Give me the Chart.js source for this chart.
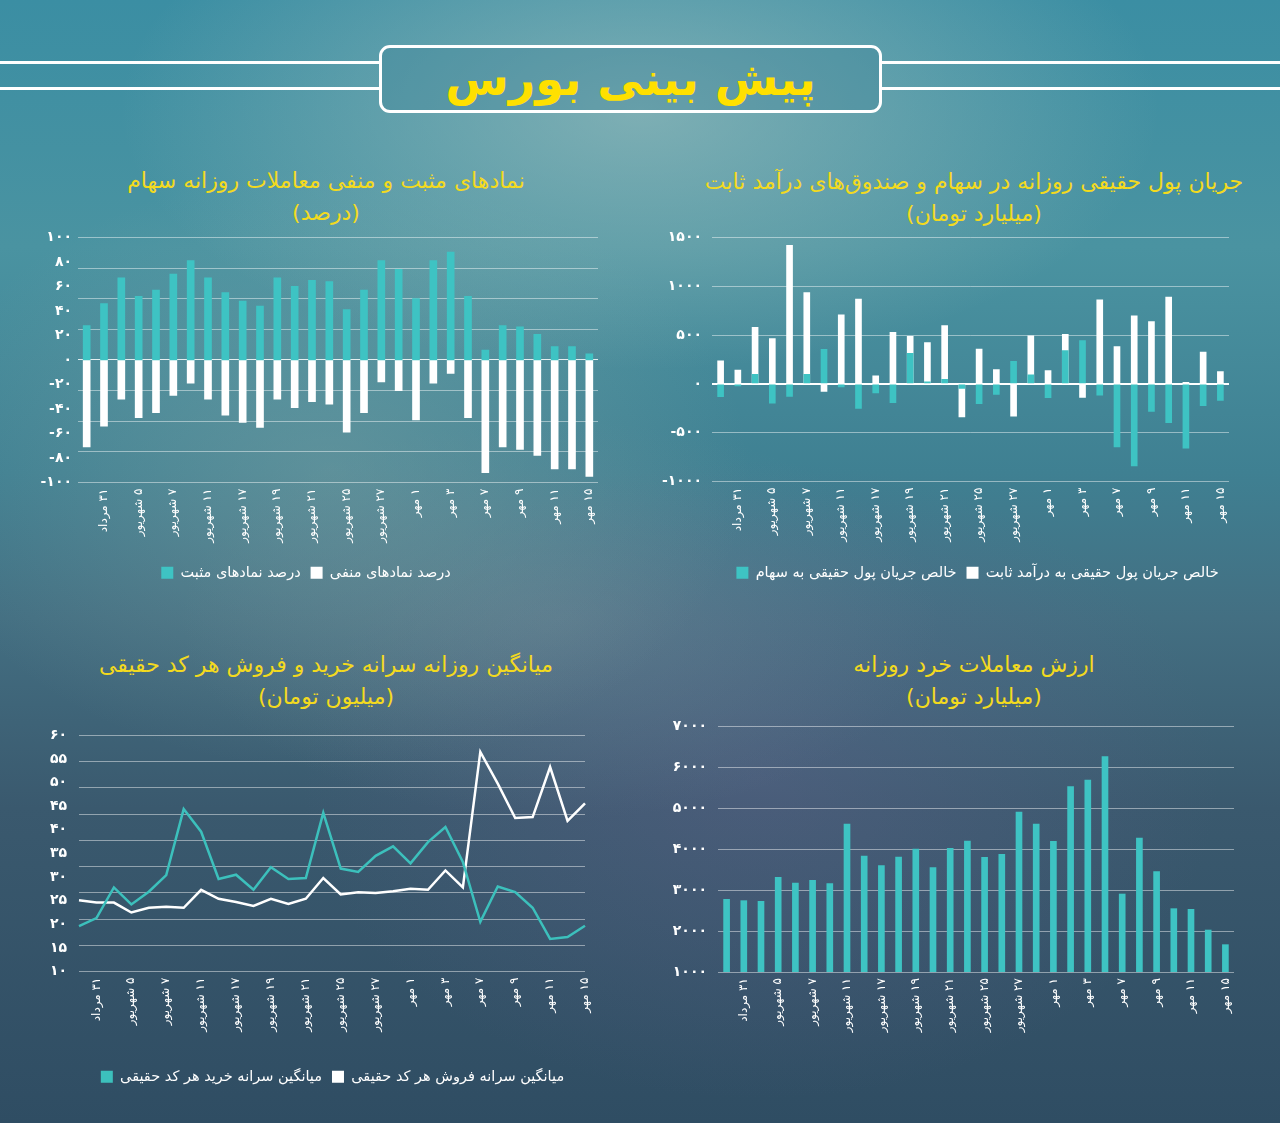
<!DOCTYPE html>
<html lang="fa">
<head>
<meta charset="utf-8">
<script src="https://cdn.jsdelivr.net/npm/chart.js@4.4.1/dist/chart.umd.min.js"></script>
<style>
html,body{margin:0;padding:0;}
body{
  width:1280px;height:1123px;position:relative;overflow:hidden;
  font-family:"DejaVu Sans",sans-serif;
  background:
    radial-gradient(ellipse 520px 260px at 640px 110px, rgba(175,200,195,0.55), rgba(175,200,195,0) 100%),
    radial-gradient(ellipse 420px 300px at 330px 470px, rgba(150,175,170,0.35), rgba(150,175,170,0) 100%),
    radial-gradient(ellipse 380px 200px at 560px 620px, rgba(130,150,160,0.30), rgba(130,150,160,0) 100%),
    radial-gradient(ellipse 460px 320px at 760px 780px, rgba(105,100,145,0.35), rgba(105,100,145,0) 100%),
    linear-gradient(180deg, #3b8ea3 0%, #4a93a1 22%, #3f8092 42%, #436f82 55%, #3a596e 72%, #2f4d63 100%);
}
.hline{position:absolute;height:3px;background:#ffffff;}
.hdr{position:absolute;left:379px;top:45px;width:497px;height:62px;border:3px solid #ffffff;border-radius:11px;
  background:rgba(60,130,150,0.35);display:flex;align-items:center;justify-content:center;}
.hdr span{direction:rtl;color:#ffe000;font-weight:bold;font-size:46px;line-height:62px;}
.ttl{position:absolute;direction:rtl;text-align:center;color:#f3da1e;font-size:22px;line-height:32px;width:640px;}
canvas{position:absolute;}
</style>
</head>
<body>
<div class="hline" style="left:0;top:61px;width:380px"></div>
<div class="hline" style="left:0;top:87px;width:380px"></div>
<div class="hline" style="left:881px;top:61px;width:399px"></div>
<div class="hline" style="left:881px;top:87px;width:399px"></div>
<div class="hdr"><span>پیش بینی بورس</span></div>

<div class="ttl" style="left:6px;top:165px">نمادهای مثبت و منفی معاملات روزانه سهام<br>(درصد)</div>
<div class="ttl" style="left:654px;top:166px">جریان پول حقیقی روزانه در سهام و صندوق‌های درآمد ثابت<br>(میلیارد تومان)</div>
<div class="ttl" style="left:6px;top:649px">میانگین روزانه سرانه خرید و فروش هر کد حقیقی<br>(میلیون تومان)</div>
<div class="ttl" style="left:654px;top:649px">ارزش معاملات خرد روزانه<br>(میلیارد تومان)</div>

<canvas id="c1" width="590" height="377" style="left:20px;top:223px"></canvas>
<canvas id="c2" width="620" height="381" style="left:650px;top:219px"></canvas>
<canvas id="c3" width="590" height="385" style="left:20px;top:715px"></canvas>
<canvas id="c4" width="620" height="380" style="left:650px;top:700px"></canvas>

<script>
// ---------- DATA ----------
const categories = ['۳۰ مرداد','۳۱ مرداد','۱ شهریور','۵ شهریور','۶ شهریور','۷ شهریور','۸ شهریور','۱۱ شهریور','۱۲ شهریور','۱۷ شهریور',
  '۱۸ شهریور','۱۹ شهریور','۲۰ شهریور','۲۱ شهریور','۲۲ شهریور','۲۵ شهریور','۲۶ شهریور','۲۷ شهریور','۲۸ شهریور','۱ مهر',
  '۲ مهر','۳ مهر','۴ مهر','۷ مهر','۸ مهر','۹ مهر','۱۰ مهر','۱۱ مهر','۱۲ مهر','۱۵ مهر'];

// chart 1: positive / negative symbols (%)
const positiveSymbols = [28,46,67,52,57,70,81,67,55,48,44,67,60,65,64,41,57,81,74,50,81,88,52,8,28,27,21,11,11,5];
const negativeSymbols = [-71,-54,-32,-47,-43,-29,-19,-32,-45,-51,-55,-32,-39,-34,-36,-59,-43,-18,-25,-49,-19,-11,-47,-92,-71,-73,-78,-89,-89,-95];

// chart 2: real money flow (billion toman)
const flowStocks      = [-132,-20,98,-197,-129,98,353,-31,-251,-92,-193,312,20,47,-47,-203,-108,230,92,-142,342,444,-115,-647,-841,-281,-397,-658,-224,-169];
const flowFixedIncome = [237,142,580,464,1420,936,-78,708,868,81,529,488,424,597,-339,356,146,-332,492,136,508,-139,861,383,698,637,888,15,325,125];

// chart 3: per-capita buy / sell (million toman)
const perCapitaBuy  = [19.6,21.3,27.8,24.2,26.9,30.4,44.4,39.6,29.6,30.5,27.3,32.1,29.6,29.8,43.6,31.8,31.1,34.5,36.5,32.9,37.4,40.6,33.2,20.5,28.0,26.8,23.5,16.9,17.3,19.7];
const perCapitaSell = [25.1,24.6,24.6,22.5,23.5,23.7,23.5,27.3,25.4,24.7,23.9,25.4,24.3,25.4,29.8,26.3,26.8,26.6,27.0,27.5,27.3,31.4,27.8,56.5,49.8,42.5,42.7,53.3,41.9,45.6];

// chart 4: retail trade value (billion toman)
const retailValue = [2772,2740,2724,3309,3171,3236,3154,4610,3829,3593,3805,4000,3545,4016,4195,3797,3870,4902,4610,4187,5520,5683,6252,2902,4268,3447,2545,2528,2024,1667];

// ---------- STYLE / HELPERS ----------
const TEAL = '#3ec3c3';
const WHITE = '#ffffff';
const GRID = 'rgba(255,255,255,0.45)';
const FONT = '"DejaVu Sans", sans-serif';
const fa = s => String(s).replace(/\d/g, d => '۰۱۲۳۴۵۶۷۸۹'[d]);
const faNum = v => (v < 0 ? '-' : '') + fa(Math.abs(Math.round(v)));

Chart.defaults.font.family = FONT;
Chart.defaults.color = '#ffffff';

function xAxis(height) {
  return {
    stacked: true,
    grid: {display: false, drawTicks: false},
    border: {display: false},
    afterFit: s => { s.height = height; },
    ticks: {
      autoSkip: false, minRotation: 90, maxRotation: 90, padding: 6,
      color: '#ffffff', font: {size: 12, family: FONT},
      callback: function(v, i) { return i % 2 === 1 ? '\u200F' + this.getLabelForValue(v) : ''; }
    }
  };
}
function yLabels(width, min, max, step, pad) {
  return {
    position: 'left', min, max,
    afterFit: s => { s.width = width; },
    border: {display: false},
    grid: {display: false, drawTicks: false},
    ticks: {stepSize: step, padding: pad, color: '#ffffff', font: {size: 14, weight: 'bold', family: FONT}, callback: v => faNum(v)}
  };
}
function yGrid(min, max, opts) {
  return Object.assign({
    position: 'right', min, max,
    afterFit: s => { s.width = 0; },
    border: {display: false},
    grid: {color: GRID, drawTicks: false},
    ticks: {display: false}
  }, opts);
}
const legendOpts = {
  position: 'bottom',
  labels: {color: '#ffffff', boxWidth: 12, boxHeight: 12, padding: 10, font: {size: 14.5, family: FONT}}
};
const shiftLegend = dx => ({id: 'shiftLegend', afterLayout(c) { if (c.legend) { c.legend.left += dx; c.legend.right += dx; } }});
const base = {responsive: false, animation: false, devicePixelRatio: 1};

// ---------- CHART 1 ----------
new Chart(document.getElementById('c1'), {
  type: 'bar',
  data: {
    labels: categories,
    datasets: [
      {label: 'درصد نمادهای مثبت', data: positiveSymbols, backgroundColor: TEAL, barThickness: 7, order: 0},
      {label: 'درصد نمادهای منفی', data: negativeSymbols, backgroundColor: WHITE, barThickness: 7, order: 1}
    ]
  },
  options: Object.assign({}, base, {
    layout: {padding: {left: 0, right: 12, top: 10, bottom: 10}},
    scales: {
      x: xAxis(73),
      y: yLabels(58, -100, 100, 20, 6),
      y2: yGrid(-100, 100, {
        ticks: {display: false, stepSize: 25},
        grid: {drawTicks: false, color: c => c.tick && c.tick.value === 0 ? 'rgba(255,255,255,0.85)' : GRID}
      })
    },
    plugins: {legend: legendOpts, tooltip: {enabled: false}}
  }),
  plugins: [shiftLegend(-3)]
});

// ---------- CHART 2 ----------
new Chart(document.getElementById('c2'), {
  type: 'bar',
  data: {
    labels: categories,
    datasets: [
      {label: 'خالص جریان پول حقیقی به سهام', data: flowStocks, backgroundColor: TEAL, barThickness: 6, order: 0},
      {label: 'خالص جریان پول حقیقی به درآمد ثابت', data: flowFixedIncome, backgroundColor: WHITE, barThickness: 6, order: 1}
    ]
  },
  options: Object.assign({}, base, {
    layout: {padding: {left: 0, right: 41, top: 6, bottom: 10}},
    scales: {
      x: xAxis(74),
      y: {
        position: 'left', min: -1000, max: 1500,
        afterFit: s => { s.width = 62; },
        border: {display: false},
        grid: {drawTicks: false, color: c => c.tick && c.tick.value === 0 ? '#ffffff' : GRID, lineWidth: c => c.tick && c.tick.value === 0 ? 2 : 1},
        ticks: {stepSize: 500, padding: 10, color: '#ffffff', font: {size: 14, weight: 'bold', family: FONT}, callback: v => faNum(v)}
      }
    },
    plugins: {legend: legendOpts, tooltip: {enabled: false}}
  }),
  plugins: [shiftLegend(38)]
});

// ---------- CHART 3 ----------
new Chart(document.getElementById('c3'), {
  type: 'line',
  data: {
    labels: categories,
    datasets: [
      {label: 'میانگین سرانه خرید هر کد حقیقی', data: perCapitaBuy, borderColor: '#3cc0bc', backgroundColor: '#3cc0bc', borderWidth: 2.5, pointRadius: 0, tension: 0},
      {label: 'میانگین سرانه فروش هر کد حقیقی', data: perCapitaSell, borderColor: WHITE, backgroundColor: WHITE, borderWidth: 2.5, pointRadius: 0, tension: 0}
    ]
  },
  options: Object.assign({}, base, {
    layout: {padding: {left: 0, right: 25, top: 20, bottom: 6}},
    scales: {
      x: Object.assign(xAxis(88), {stacked: false}),
      y: yLabels(59, 10, 60, 5, 12),
      y2: yGrid(10, 60, {ticks: {display: false, count: 10}})
    },
    plugins: {
      legend: Object.assign({}, legendOpts, {labels: Object.assign({}, legendOpts.labels, {
        generateLabels: ch => Chart.defaults.plugins.legend.labels.generateLabels(ch).map(l => Object.assign(l, {lineWidth: 0}))
      })}),
      tooltip: {enabled: false}
    }
  }),
  plugins: [shiftLegend(30)]
});

// ---------- CHART 4 ----------
new Chart(document.getElementById('c4'), {
  type: 'bar',
  data: {
    labels: categories,
    datasets: [
      {label: 'ارزش معاملات خرد روزانه', data: retailValue, backgroundColor: TEAL, barThickness: 6}
    ]
  },
  options: Object.assign({}, base, {
    layout: {padding: {left: 0, right: 36, top: 26, bottom: 28}},
    scales: {
      x: xAxis(80),
      y: {
        position: 'left', min: 1000, max: 7000,
        afterFit: s => { s.width = 68; },
        border: {display: false},
        grid: {drawTicks: false, color: GRID},
        ticks: {stepSize: 1000, padding: 11, color: '#ffffff', font: {size: 14, weight: 'bold', family: FONT}, callback: v => faNum(v)}
      }
    },
    plugins: {legend: {display: false}, tooltip: {enabled: false}}
  })
});
</script>
</body>
</html>
